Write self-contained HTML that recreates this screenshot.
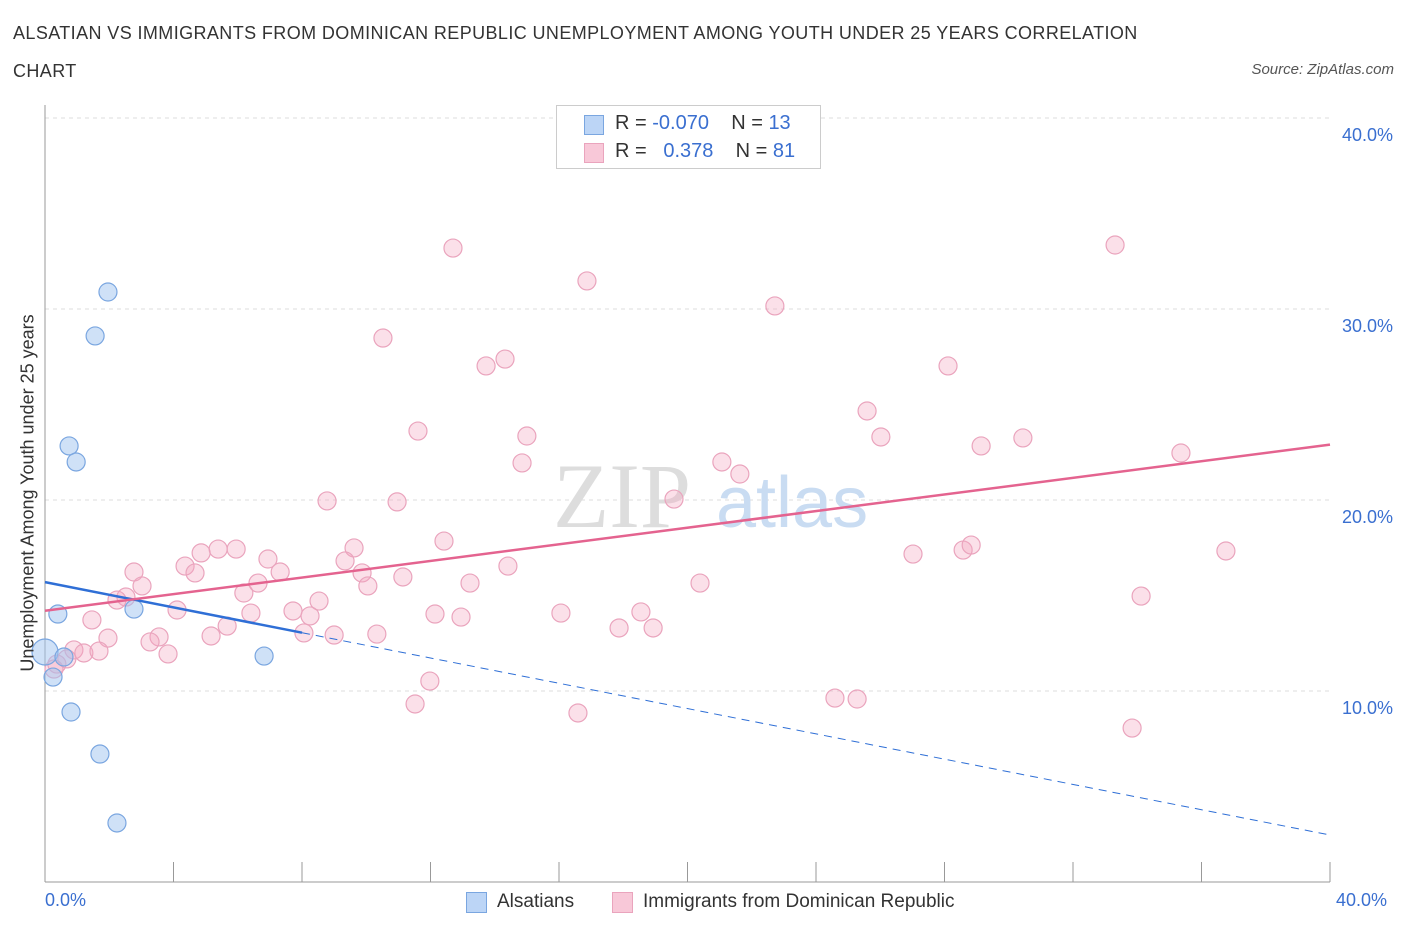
<!DOCTYPE html>
<html><head><meta charset="utf-8"><style>
body{margin:0;background:#fff;font-family:"Liberation Sans",sans-serif;}
#wrap{position:relative;width:1406px;height:930px;overflow:hidden;}
.t{position:absolute;white-space:nowrap;}
</style></head><body>
<div id="wrap">
<div class="t" style="left:13px;top:14px;font-size:18px;letter-spacing:0.4px;color:#333;line-height:38px;width:1160px;white-space:normal">ALSATIAN VS IMMIGRANTS FROM DOMINICAN REPUBLIC UNEMPLOYMENT AMONG YOUTH UNDER 25 YEARS CORRELATION CHART</div>
<div class="t" style="right:12px;top:61px;font-size:15px;color:#555;font-style:italic">Source: ZipAtlas.com</div>
<svg id="chart" width="1406" height="930" style="position:absolute;left:0;top:0"></svg>
</div>
<script>
const xTicks=[0,4,8,12,16,20,24,28,32,36,40];
const yGrid=[10,20,30,40];
const yTickLabels=["10.0%","20.0%","30.0%","40.0%"];
const blueX=[0,0.4,1.96,1.56,0.75,0.97,2.77,0.59,0.25,0.81,1.71,2.24,6.82];
const blueY=[12.04,14.03,30.89,28.59,22.83,21.99,14.29,11.78,10.73,8.9,6.70,3.09,11.83];
const pinkX=[12.70,16.87,33.31,22.72,10.52,13.73,14.32,28.11,25.59,11.61,15.00,26.02,30.44,29.14,14.85,21.07,35.36,21.63,19.58,8.78,10.96,12.42,9.62,5.95,5.39,4.86,27.02,28.58,28.83,36.76,6.94,4.36,4.67,7.32,9.34,14.41,11.14,13.23,9.87,10.05,2.77,3.02,6.63,6.19,20.39,2.52,2.24,8.53,7.72,8.25,6.41,4.11,34.12,12.14,12.95,16.06,18.55,1.46,5.67,8.06,9.00,10.33,5.17,17.87,18.93,3.55,3.27,1.96,0.90,1.21,1.68,3.83,0.68,0.37,0.28,11.98,11.52,16.59,24.59,25.28,33.84];
const pinkY=[33.19,31.47,33.35,30.16,28.48,27.02,27.38,27.02,24.66,23.61,23.35,23.30,23.25,22.83,21.94,21.99,22.46,21.36,20.05,19.95,19.90,17.85,17.49,17.43,17.43,17.23,17.17,17.38,17.64,17.33,16.91,16.54,16.18,16.23,16.81,16.54,15.97,15.65,16.18,15.50,16.23,15.50,15.65,15.13,15.65,14.92,14.76,14.71,14.19,13.93,14.08,14.24,14.97,14.03,13.87,14.08,14.14,13.72,13.40,13.04,12.93,12.98,12.88,13.30,13.30,12.83,12.57,12.77,12.15,11.99,12.09,11.94,11.68,11.41,11.15,10.52,9.32,8.85,9.63,9.58,8.06];
const blueLine=[15.7,2.46]; const blueSolidEnd=8;
const pinkLine=[14.2,22.9];
const NS="http://www.w3.org/2000/svg";
const svg=document.getElementById('chart');
const X=v=>45+v*32.125, Y=v=>882-v*19.1;
function mk(tag,a,p){const e=document.createElementNS(NS,tag);for(const k in a)e.setAttribute(k,a[k]);(p||svg).appendChild(e);return e;}
yGrid.forEach((g,i)=>{
 const l=mk('line',{x1:45,x2:1330,y1:Y(g),y2:Y(g),stroke:'#ddd','stroke-dasharray':'4,4'});
 
 
 const t=mk('text',{x:1393,y:Y(g)+23,'text-anchor':'end','font-size':18,fill:'#3a6fd0','font-family':'Liberation Sans'});
 t.textContent=yTickLabels[i];
 
 
});
const ax=mk('line',{x1:45,x2:45,y1:105,y2:882,stroke:'#999'});


const bx=mk('line',{x1:45,x2:1330,y1:882,y2:882,stroke:'#999'});


xTicks.forEach(v=>{const t=mk('line',{x1:X(v),x2:X(v),y1:862,y2:882,stroke:'#999'});
 
 });
const w1=mk('text',{x:553,y:527,'font-size':92,fill:'#ddd','font-family':'Liberation Serif'});w1.textContent='ZIP';


const w2=mk('text',{x:716,y:527,'font-size':72,fill:'#c9dcf2','font-family':'Liberation Sans'});w2.textContent='atlas';


pinkX.forEach((x,i)=>{const c=mk('circle',{cx:X(x),cy:Y(pinkY[i]),r:9,fill:'rgba(244,165,192,0.35)',stroke:'#eaa4bd','stroke-width':1.2});
 
 });
blueX.forEach((x,i)=>{const c=mk('circle',{cx:X(x),cy:Y(blueY[i]),r:i===0?13:9,fill:'rgba(160,195,240,0.5)',stroke:'#7aa6e0','stroke-width':1.2});
 
 });
const by=v=>blueLine[0]+(blueLine[1]-blueLine[0])*v/40;
const b1=mk('line',{x1:X(0),y1:Y(by(0)),x2:X(blueSolidEnd),y2:Y(by(blueSolidEnd)),stroke:'#2f6fd6','stroke-width':2.5});


const b2=mk('line',{x1:X(blueSolidEnd),y1:Y(by(blueSolidEnd)),x2:X(40),y2:Y(by(40)),stroke:'#2f6fd6','stroke-width':1,'stroke-dasharray':'8,6'});


const p1=mk('line',{x1:X(0),y1:Y(pinkLine[0]),x2:X(40),y2:Y(pinkLine[1]),stroke:'#e4638f','stroke-width':2.5});


</script>
<div class="t" style="left:28px;top:493px;font-size:18px;color:#333;transform:translate(-50%,-50%) rotate(-90deg)">Unemployment Among Youth under 25 years</div>
<div class="t" style="left:45px;top:890px;font-size:18px;color:#3a6fd0">0.0%</div>
<div class="t" style="left:1336px;top:890px;font-size:18px;color:#3a6fd0">40.0%</div>
<div style="position:absolute;left:556px;top:105px;width:263px;height:62px;border:1px solid #ccc;background:#fff;font-size:20px;color:#333">
 <div style="position:absolute;left:27px;top:9px;width:18px;height:18px;background:#bcd5f6;border:1px solid #7aa6e0"></div>
 <div class="t" style="left:58px;top:6px">R = <span style="color:#3a6fd0">-0.070</span>&nbsp;&nbsp;&nbsp; N = <span style="color:#3a6fd0">13</span></div>
 <div style="position:absolute;left:27px;top:37px;width:18px;height:18px;background:#f8c8d8;border:1px solid #eaa4bd"></div>
 <div class="t" style="left:58px;top:34px">R = &nbsp;&nbsp;<span style="color:#3a6fd0">0.378</span>&nbsp;&nbsp;&nbsp; N = <span style="color:#3a6fd0">81</span></div>
</div>
<div style="position:absolute;left:466px;top:891px;font-size:19px;color:#333">
 <div style="position:absolute;left:0;top:1px;width:19px;height:19px;background:#bcd5f6;border:1px solid #7aa6e0"></div>
 <span class="t" style="left:31px;top:0">Alsatians</span></div>
<div style="position:absolute;left:612px;top:891px;font-size:19px;color:#333">
 <div style="position:absolute;left:0;top:1px;width:19px;height:19px;background:#f8c8d8;border:1px solid #eaa4bd"></div>
 <span class="t" style="left:31px;top:0">Immigrants from Dominican Republic</span></div>
</body></html>
